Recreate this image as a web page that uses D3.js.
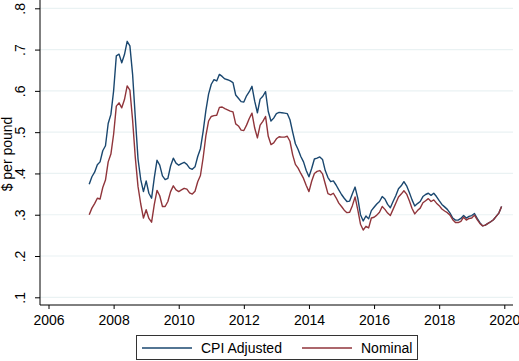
<!DOCTYPE html>
<html>
<head>
<meta charset="UTF-8">
<title>$ per pound</title>
<script src="https://cdn.jsdelivr.net/npm/d3@7"></script>
<style>
  body { margin: 0; background: #fff; }
  text { font-family: "Liberation Sans", Arial, sans-serif; fill: #000; }
</style>
</head>
<body>
<div id="app"></div>
<script>
// monthly series, April 2007 - December 2019
var startYear = 2007, startMonth = 4;
var cpiAdjusted = [
  0.374,0.392,0.403,0.421,0.428,0.455,0.467,0.521,0.543,0.600,0.685,0.689,
  0.668,0.688,0.720,0.709,0.640,0.535,0.435,0.385,0.356,0.382,0.352,0.340,
  0.390,0.432,0.420,0.394,0.385,0.388,0.418,0.437,0.425,0.420,0.424,0.427,
  0.422,0.413,0.410,0.416,0.441,0.460,0.502,0.552,0.592,0.616,0.627,0.624,
  0.640,0.635,0.629,0.627,0.624,0.620,0.590,0.582,0.574,0.573,0.588,0.598,
  0.611,0.575,0.547,0.580,0.587,0.598,0.550,0.527,0.534,0.545,0.548,0.547,
  0.546,0.545,0.530,0.500,0.472,0.458,0.441,0.428,0.407,0.392,0.412,0.435,
  0.437,0.440,0.434,0.407,0.390,0.380,0.382,0.372,0.360,0.349,0.340,0.332,
  0.333,0.351,0.367,0.340,0.300,0.285,0.297,0.290,0.310,0.318,0.326,0.332,
  0.344,0.338,0.325,0.317,0.332,0.346,0.363,0.370,0.380,0.370,0.354,0.336,
  0.321,0.327,0.332,0.344,0.349,0.352,0.347,0.352,0.344,0.334,0.325,0.319,
  0.313,0.304,0.292,0.287,0.287,0.291,0.298,0.292,0.296,0.298,0.303,0.291,
  0.281,0.273,0.275,0.279,0.283,0.288,0.296,0.304,0.320
];
var nominal = [
  0.300,0.316,0.327,0.340,0.338,0.366,0.384,0.428,0.447,0.495,0.563,0.571,
  0.559,0.579,0.612,0.602,0.529,0.438,0.368,0.326,0.292,0.312,0.291,0.282,
  0.325,0.359,0.346,0.320,0.320,0.332,0.356,0.370,0.360,0.356,0.360,0.364,
  0.362,0.353,0.350,0.357,0.380,0.395,0.438,0.491,0.527,0.538,0.540,0.541,
  0.560,0.561,0.557,0.554,0.551,0.549,0.520,0.515,0.505,0.504,0.517,0.533,
  0.546,0.510,0.486,0.517,0.526,0.538,0.490,0.470,0.474,0.484,0.489,0.488,
  0.488,0.490,0.478,0.445,0.422,0.413,0.400,0.388,0.371,0.356,0.381,0.400,
  0.405,0.407,0.399,0.375,0.351,0.348,0.352,0.341,0.328,0.320,0.311,0.305,
  0.306,0.322,0.343,0.312,0.277,0.263,0.272,0.268,0.292,0.294,0.299,0.306,
  0.320,0.313,0.304,0.298,0.313,0.328,0.343,0.350,0.358,0.350,0.334,0.315,
  0.302,0.310,0.316,0.329,0.334,0.339,0.332,0.336,0.328,0.322,0.314,0.309,
  0.305,0.299,0.288,0.281,0.281,0.284,0.294,0.287,0.291,0.292,0.299,0.288,
  0.279,0.273,0.275,0.279,0.283,0.288,0.296,0.304,0.320
];
var yTicks = [0.1, 0.2, 0.3, 0.4, 0.5, 0.6, 0.7, 0.8];
var yTickLabels = ['.1', '.2', '.3', '.4', '.5', '.6', '.7', '.8'];
var xTicks = [2006, 2008, 2010, 2012, 2014, 2016, 2018, 2020];
var seriesNames = ['CPI Adjusted', 'Nominal'];
var colors = ['#1a476f', '#90353b'];

var width = 519, height = 361;
var axisX = 40, axisY = 305, rightEdge = 513;

var x = d3.scaleLinear().domain([2006, 2020]).range([48.5, 504.3]);
var y = d3.scaleLinear().domain([0.1, 0.8]).range([297.3, 8.3]);

var svg = d3.select('#app').append('svg')
    .attr('width', width)
    .attr('height', height);

// grid lines
svg.append('g').selectAll('line')
    .data(yTicks)
    .enter().append('line')
    .attr('x1', axisX).attr('x2', rightEdge)
    .attr('y1', function(d){ return y(d); })
    .attr('y2', function(d){ return y(d); })
    .attr('stroke', '#eaf2f3')
    .attr('stroke-width', 1.2);

// series lines
function toPoints(values) {
    return values.map(function(v, i){
        return { t: startYear + (startMonth - 1 + i) / 12, v: v };
    });
}
var line = d3.line()
    .x(function(d){ return x(d.t); })
    .y(function(d){ return y(d.v); });

[cpiAdjusted, nominal].forEach(function(values, k){
    svg.append('path')
        .datum(toPoints(values))
        .attr('fill', 'none')
        .attr('stroke', colors[k])
        .attr('stroke-width', 1.4)
        .attr('stroke-linejoin', 'round')
        .attr('d', line);
});

// y axis
var yAxis = d3.axisLeft(y)
    .tickValues(yTicks)
    .tickSize(5)
    .tickPadding(0)
    .tickFormat(function(d, i){ return yTickLabels[i]; });
var gy = svg.append('g')
    .attr('transform', 'translate(' + axisX + ',0)')
    .call(yAxis);
gy.select('.domain').remove();
gy.selectAll('.tick line').attr('stroke', '#000');
gy.selectAll('.tick text')
    .attr('x', null).attr('dy', null)
    .attr('transform', 'translate(-15,0) rotate(-90)')
    .attr('text-anchor', 'middle')
    .style('font-size', '14px')
    .style('font-family', '"Liberation Sans", Arial, sans-serif');
svg.append('line')
    .attr('x1', axisX).attr('x2', axisX)
    .attr('y1', 0).attr('y2', axisY)
    .attr('stroke', '#000').attr('stroke-width', 1);

// x axis
var xAxis = d3.axisBottom(x)
    .tickValues(xTicks)
    .tickSize(4)
    .tickPadding(6)
    .tickFormat(d3.format('d'));
var gx = svg.append('g')
    .attr('transform', 'translate(0,' + axisY + ')')
    .call(xAxis);
gx.select('.domain').remove();
gx.selectAll('.tick line').attr('stroke', '#000');
gx.selectAll('.tick text')
    .style('font-size', '14px')
    .style('font-family', '"Liberation Sans", Arial, sans-serif');
svg.append('line')
    .attr('x1', axisX).attr('x2', rightEdge)
    .attr('y1', axisY).attr('y2', axisY)
    .attr('stroke', '#000').attr('stroke-width', 1);

// axis title
svg.append('text')
    .attr('transform', 'translate(12,154) rotate(-90)')
    .attr('text-anchor', 'middle')
    .style('font-size', '14px')
    .text('$ per pound');

// legend
var legend = svg.append('g');
legend.append('rect')
    .attr('x', 136.5).attr('y', 335.5)
    .attr('width', 281).attr('height', 24)
    .attr('fill', '#fff')
    .attr('stroke', '#333').attr('stroke-width', 1);
var legendX = [142, 302];
seriesNames.forEach(function(name, k){
    legend.append('line')
        .attr('x1', legendX[k]).attr('x2', legendX[k] + 50)
        .attr('y1', 348).attr('y2', 348)
        .attr('stroke', colors[k]).attr('stroke-width', 1.4);
    legend.append('text')
        .attr('x', legendX[k] + 59).attr('y', 352.5)
        .style('font-size', '14px')
        .text(name);
});
</script>
</body>
</html>
